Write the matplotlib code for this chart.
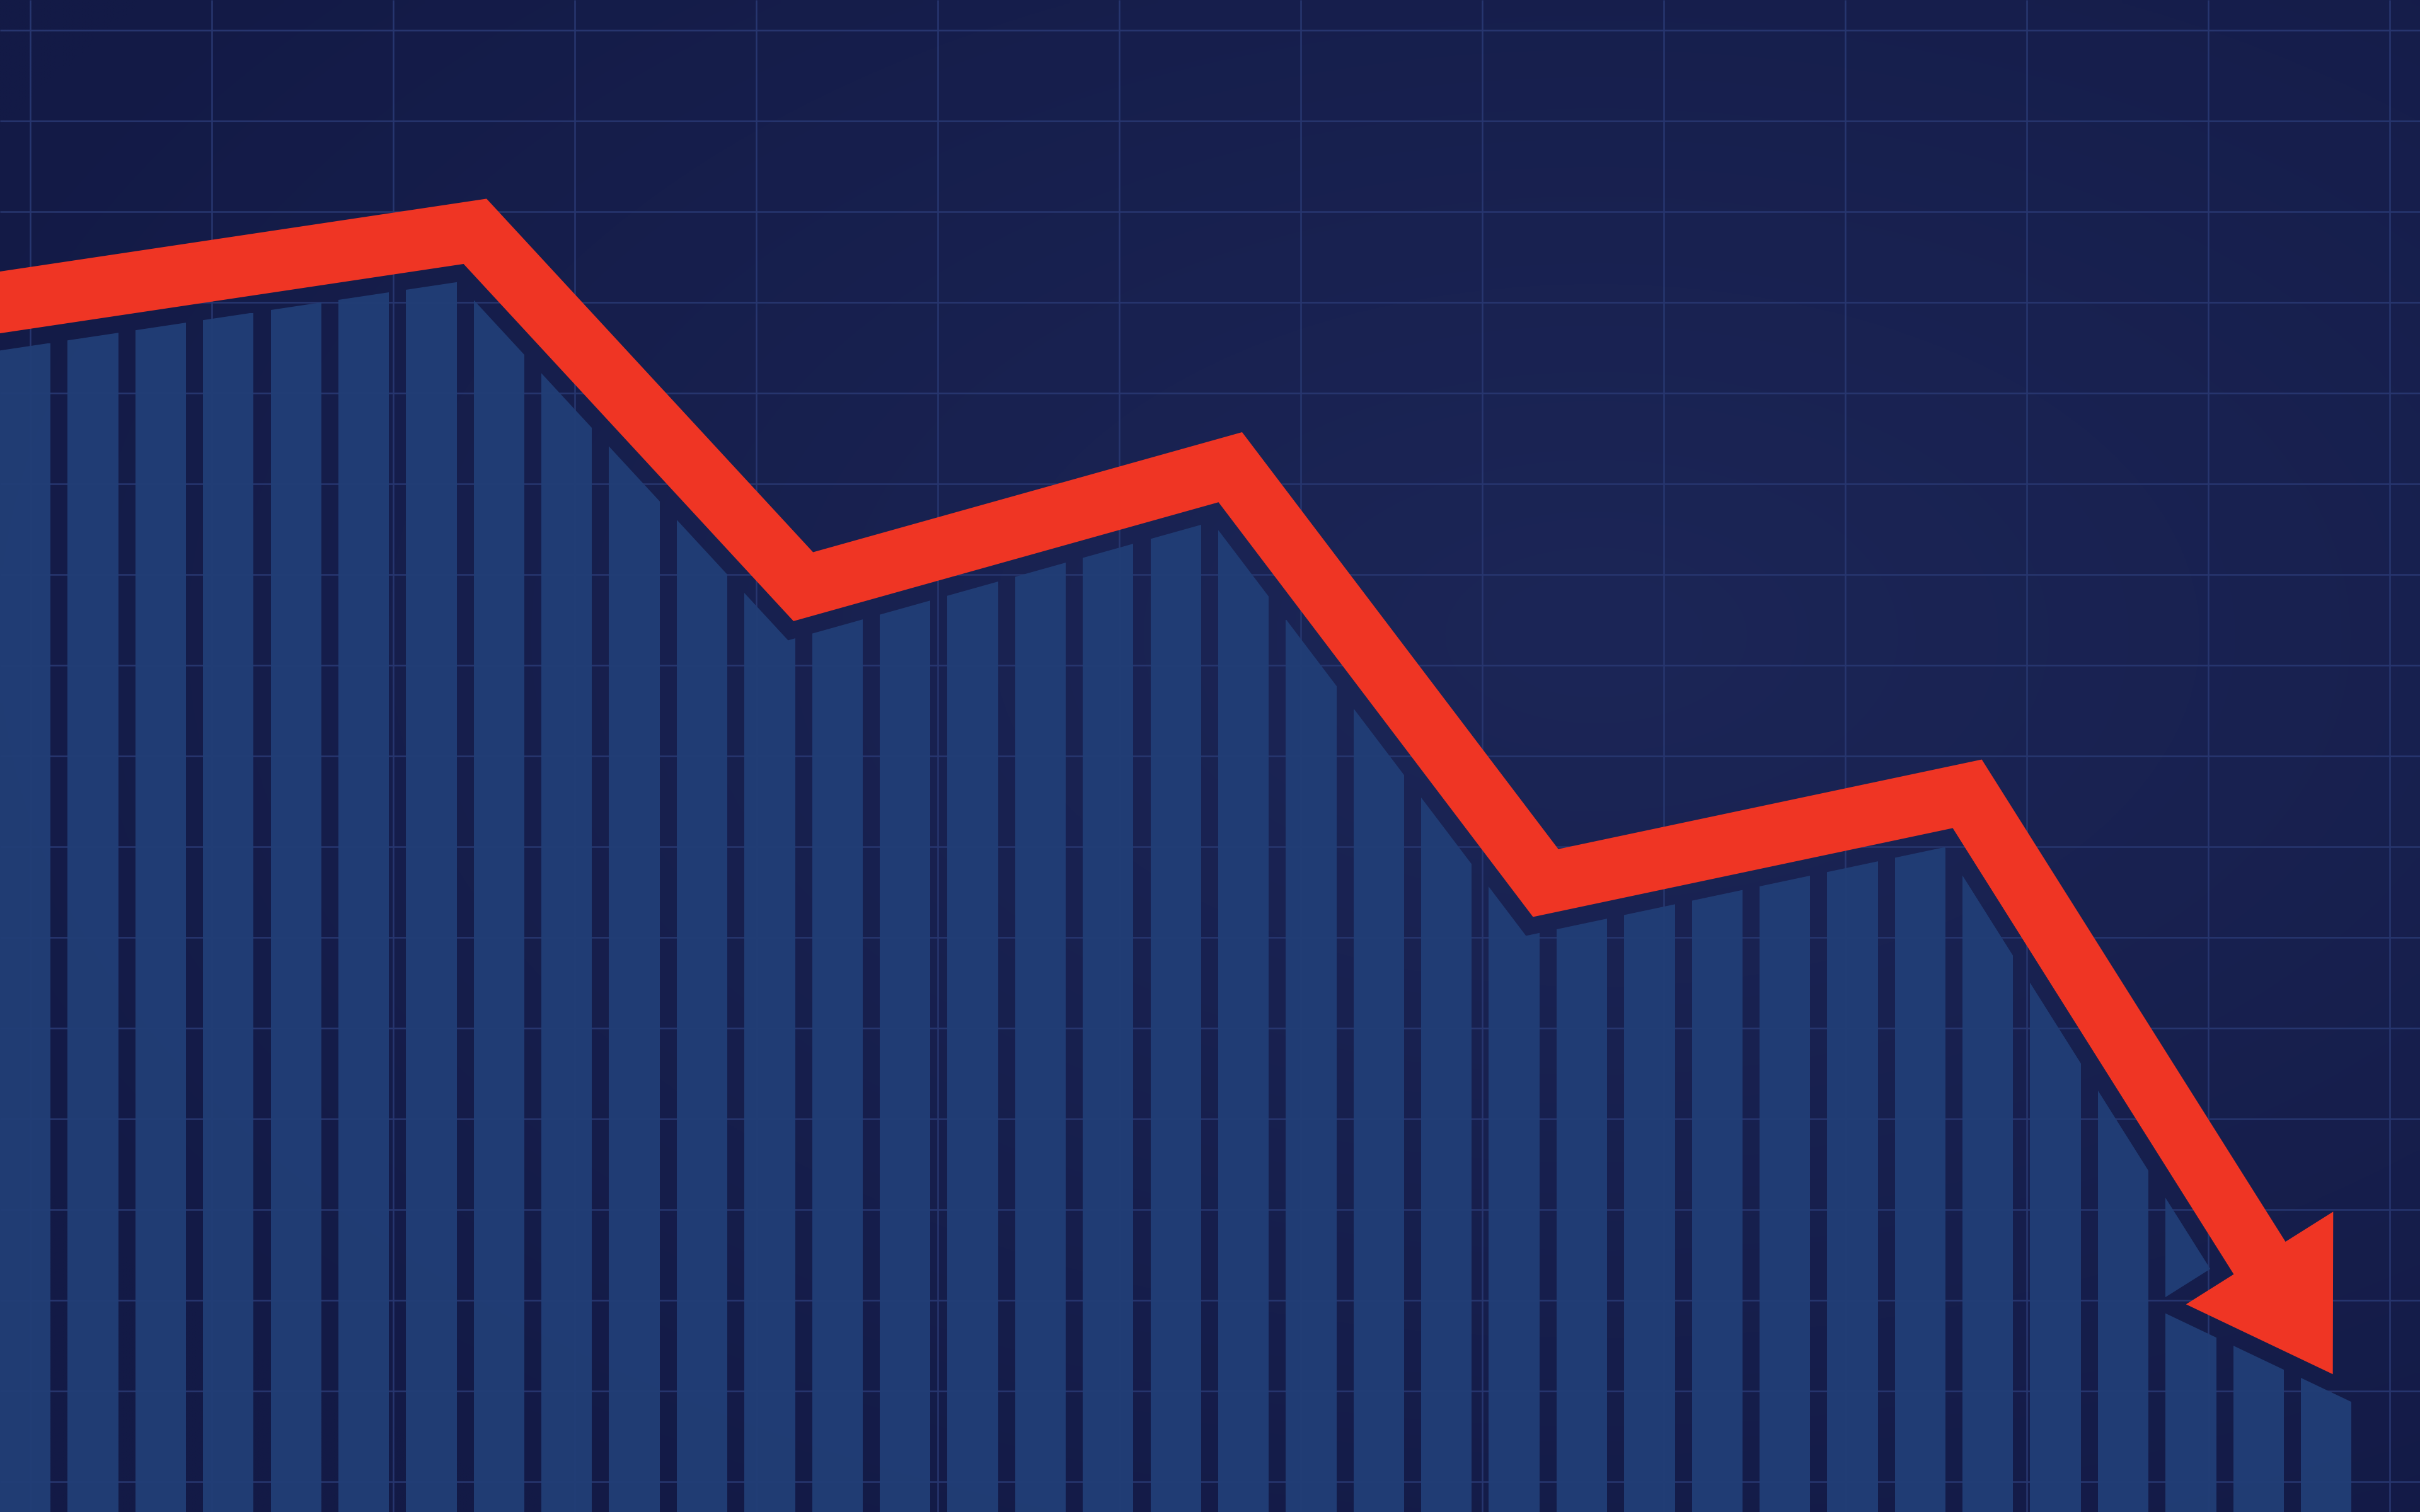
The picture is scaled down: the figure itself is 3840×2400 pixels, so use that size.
import numpy as np
import matplotlib
matplotlib.use("Agg")
import matplotlib.pyplot as plt
from matplotlib.path import Path
from matplotlib.patches import PathPatch, Polygon
from matplotlib.colors import to_rgb

# ---------------- data ----------------
# bar slots (x unit = one bar slot), values on a 0-100 scale
bar_index = list(range(35))
bar_values = [77.3, 78.0, 78.7, 79.3, 80.0, 80.7, 81.4, 80.3, 75.4, 70.6,
              65.7, 60.8, 59.1, 60.4, 61.6, 62.9, 64.1, 65.4, 64.9, 59.0,
              53.1, 47.3, 41.4, 39.3, 40.3, 41.2, 42.2, 43.1, 44.1, 42.1,
              35.0, 27.9, 20.8, 11.3, 9.0]
# trend arrow (centre line vertices; last vertex = base of the arrow head)
trend_x = [0.0, 7.02, 11.87, 18.18, 22.84, 29.07, 33.39]
trend_y = [80.0, 84.7, 61.2, 69.1, 41.6, 47.5, 16.8]

# grid positions (x in bar slots, y on the value scale)
grid_x = [0.447 + 2.682 * k for k in range(14)]
grid_y = [2 + 6 * k for k in range(17)]

# ---------------- style ----------------
XMAX, YMAX = 35.76, 100
BAR_WIDTH = 0.748
BAR_COLOR = "#213e76"
RED = "#ef3524"
GRID_COLOR = "#27366f"
BG_CENTER = "#1c2657"
BG_EDGE = "#131a46"
SHAFT_HALF = 48.5     # display px
GAP = 27.0            # display px
HEAD_LEN = 218.0      # display px
HEAD_W = 276.0        # display px

fig = plt.figure(figsize=(16, 10), dpi=240)
ax = fig.add_axes([0, 0, 1, 1])
ax.axis("off")

# background gradient
H, W = 240, 384
yy, xx = np.mgrid[0:1:H * 1j, 0:1:W * 1j]
r = np.sqrt(((xx - 0.66) / 0.75) ** 2 + ((yy - 0.42) / 0.7) ** 2)
r = np.clip(r, 0, 1)[..., None]
c0 = np.array(to_rgb(BG_CENTER))
c1 = np.array(to_rgb(BG_EDGE))
img = c0 * (1 - r) + c1 * r
ax.imshow(img, extent=(0, XMAX, 0, YMAX), aspect="auto", origin="upper",
          interpolation="bilinear", zorder=0)
ax.set_xlim(0, XMAX)
ax.set_ylim(0, YMAX)

# grid
ax.vlines(grid_x, 0, YMAX, colors=GRID_COLOR, linewidth=0.75, zorder=1)
ax.hlines(grid_y, 0, XMAX, colors=GRID_COLOR, linewidth=0.75, zorder=1)

# bars
bars = ax.bar(bar_index, bar_values, width=BAR_WIDTH, align="edge",
              color=BAR_COLOR, alpha=0.96, linewidth=0, zorder=2)


# ---------------- geometry helpers (display space) ----------------
def unit(v):
    return v / np.hypot(v[0], v[1])


def rnorm(u):
    return np.array([u[1], -u[0]])


def offset_polyline(P, d):
    P = np.asarray(P, float)
    n = len(P)
    U = [unit(P[i + 1] - P[i]) for i in range(n - 1)]
    out = [P[0] + rnorm(U[0]) * d]
    for i in range(1, n - 1):
        a = P[i] + rnorm(U[i - 1]) * d
        b = P[i] + rnorm(U[i]) * d
        Mx = np.array([U[i - 1], -U[i]]).T
        s, _ = np.linalg.solve(Mx, b - a)
        out.append(a + s * U[i - 1])
    out.append(P[-1] + rnorm(U[-1]) * d)
    return np.array(out)


to_px = ax.transData.transform
to_data = ax.transData.inverted().transform

P = to_px(np.column_stack([trend_x, trend_y]))
u0 = unit(P[1] - P[0])
P_ext = np.vstack([P[0] - u0 * 300, P[1:]])

upper = offset_polyline(P_ext, -SHAFT_HALF)
lower = offset_polyline(P_ext, SHAFT_HALF)

uL = unit(P[-1] - P[-2])
nL = rnorm(uL)
M = P[-1]
tip = M + uL * HEAD_LEN
barb_up = M - nL * HEAD_W / 2
barb_low = M + nL * HEAD_W / 2

arrow_poly = np.vstack([upper, barb_up, tip, barb_low, lower[::-1]])

# clip region for bars: below the lower outline of the arrow, offset by a gap
outline = np.vstack([lower, barb_low, tip])
off = offset_polyline(outline, GAP)
u_end = unit(tip - barb_low)
end_ext = off[-1] + u_end * 1500
clip_pts = np.vstack([off, end_ext,
                      [end_ext[0], -800], [off[0][0], -800]])
clip_patch = PathPatch(Path(to_data(clip_pts), closed=False),
                       transform=ax.transData, facecolor="none",
                       edgecolor="none")
for b in bars:
    b.set_clip_path(clip_patch)

ax.add_patch(Polygon(to_data(arrow_poly), closed=True, facecolor=RED,
                     edgecolor="none", zorder=4))

fig.savefig("out.png", dpi=240)
